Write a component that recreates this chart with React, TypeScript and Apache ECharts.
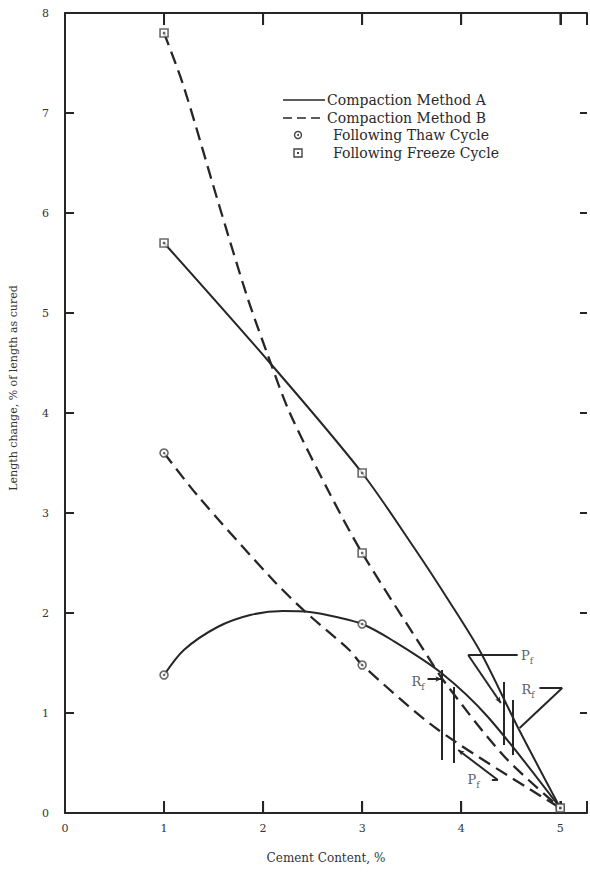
import React, { useEffect, useRef } from "react";
import * as echarts from "echarts";

// ---- data ----
const xTickValues = [0, 1, 2, 3, 4, 5];
const yTickValues = [0, 1, 2, 3, 4, 5, 6, 7, 8];

// curves
const methodAFreezeCurve: number[][] = [
  [1, 5.7], [2.07, 4.5], [3, 3.4], [3.54, 2.63], [3.87, 2.13], [4.2, 1.6], [4.57, 0.86], [5, 0.05],
];
const methodAThawCurve: number[][] = [
  [1, 1.38], [1.2, 1.63], [1.54, 1.86], [1.87, 1.98], [2.2, 2.02], [2.47, 2.01], [2.74, 1.96],
  [3, 1.89], [3.3, 1.73], [3.8, 1.4], [4.27, 0.96], [5, 0.05],
];
const methodBFreezeCurve: number[][] = [
  [1, 7.8], [1.2, 7.26], [1.54, 6.13], [1.84, 5.16], [2.04, 4.6], [2.27, 4.0], [2.67, 3.2],
  [3, 2.6], [3.64, 1.6], [3.84, 1.3], [4.44, 0.56], [5, 0.05],
];
const methodBThawCurve: number[][] = [
  [1, 3.6], [1.35, 3.16], [2.1, 2.33], [2.44, 2.0], [2.87, 1.63], [3, 1.48], [3.77, 0.83], [5, 0.05],
];

// measured points
const thawPoints: number[][] = [[1, 1.38], [3, 1.89], [5, 0.05], [1, 3.6], [3, 1.48]];
const freezePoints: number[][] = [[1, 5.7], [3, 3.4], [1, 7.8], [3, 2.6], [5, 0.05]];

// annotation marks: [x, yTop, yBottom]
const verticalMarks: number[][] = [
  [3.8, 1.43, 0.53], [3.92, 1.26, 0.5], [4.43, 1.31, 0.68], [4.52, 1.13, 0.58],
];
// leader segments: [x1, y1, x2, y2, arrow(1/0)]
const leaderSegments: number[][] = [
  [4.57, 1.58, 4.07, 1.58, 0], [4.07, 1.58, 4.4, 1.1, 1],
  [3.66, 1.34, 3.8, 1.34, 1],
  [4.79, 1.25, 5.02, 1.25, 0], [5.02, 1.25, 4.59, 0.85, 0],
  [4.31, 0.33, 4.37, 0.33, 0], [4.37, 0.33, 3.97, 0.63, 1],
];
const annotationLabels = [
  { main: "P", sub: "f", x: 4.665, y: 1.56 },
  { main: "R", sub: "f", x: 3.565, y: 1.3 },
  { main: "R", sub: "f", x: 4.675, y: 1.22 },
  { main: "P", sub: "f", x: 4.125, y: 0.32 },
];
const legendLabels = ["Compaction Method A", "Compaction Method B", "Following Thaw Cycle", "Following Freeze Cycle"];

const INK = "#262626";
const SERIF = "'DejaVu Serif', 'Liberation Serif', serif";
const X_MAX = 5.27;
const Y_MIN = 0;
const Y_MAX = 8;

export default function App() {
  const ref = useRef<HTMLDivElement>(null);
  useEffect(() => {
    if (!ref.current) return;
    const chart = echarts.init(ref.current, undefined, { renderer: "svg" });

    const curve = (data: number[][], dashed: boolean) => ({
      type: "line",
      data,
      smooth: 0.3,
      showSymbol: false,
      symbol: "none",
      silent: true,
      lineStyle: { color: INK, width: dashed ? 2.3 : 2, type: dashed ? [13, 7] : "solid" },
      z: 2,
    });

    const markLineData: any[] = [];
    verticalMarks.forEach(([x, y1, y2]) => {
      markLineData.push([
        { coord: [x, y1], symbol: "none" },
        { coord: [x, y2], symbol: "none" },
      ]);
    });
    leaderSegments.forEach(([x1, y1, x2, y2, arrow]) => {
      markLineData.push([
        { coord: [x1, y1], symbol: "none" },
        { coord: [x2, y2], symbol: arrow ? "arrow" : "none", symbolSize: [4, 6] },
      ]);
    });

    // inward x ticks on the bottom and top frame lines, as bar-shaped symbols
    const innerXTicks = xTickValues.filter((v) => v > 0);
    const bottomTickPoints = innerXTicks.map((v) => [v, Y_MIN]);
    const topTickPoints = innerXTicks.map((v) => [v, Y_MAX]);

    const tickOnly = (v: number, list: number[]) => list.includes(v);

    const option: any = {
      animation: false,
      backgroundColor: "#ffffff",
      grid: { left: 63, top: 13, right: 0, height: 800 },
      xAxis: [
        {
          type: "value", min: 0, max: X_MAX, interval: 1, position: "bottom",
          axisLine: { show: true, onZero: false, lineStyle: { color: INK, width: 2 } },
          axisTick: { show: true, inside: true, length: 12, lineStyle: { color: INK, width: 2 } },
          axisLabel: {
            margin: 10, color: "#333", fontFamily: SERIF, fontSize: 11,
            formatter: (v: number) => (tickOnly(v, xTickValues) ? String(v) : ""),
          },
          splitLine: { show: false },
          name: "Cement Content, %", nameLocation: "middle", nameGap: 39,
          nameTextStyle: { color: "#333", fontFamily: SERIF, fontSize: 12 },
        },
        {
          type: "value", min: 0, max: X_MAX, interval: 1, position: "top",
          axisLine: { show: true, onZero: false, lineStyle: { color: INK, width: 2 } },
          axisTick: { show: true, inside: true, length: 12, lineStyle: { color: INK, width: 2 } },
          axisLabel: { show: false },
          splitLine: { show: false },
        },
      ],
      yAxis: [
        {
          type: "value", min: Y_MIN, max: Y_MAX, interval: 1, position: "left",
          axisLine: { show: true, onZero: false, lineStyle: { color: INK, width: 2 } },
          axisTick: { show: true, inside: true, length: 9, lineStyle: { color: INK, width: 2 } },
          axisLabel: {
            margin: 16, color: "#333", fontFamily: SERIF, fontSize: 11,
            formatter: (v: number) => (tickOnly(v, yTickValues) ? String(v) : ""),
          },
          splitLine: { show: false },
          name: "Length change, % of length as cured", nameLocation: "middle", nameGap: 46, nameRotate: 90,
          nameTextStyle: { color: "#333", fontFamily: SERIF, fontSize: 11, padding: [0, 0, 0, 50] },
        },
        {
          type: "value", min: Y_MIN, max: Y_MAX, interval: 1, position: "right",
          axisLine: { show: false, onZero: false },
          axisTick: { show: true, inside: true, length: 7, lineStyle: { color: INK, width: 2 } },
          axisLabel: { show: false },
          splitLine: { show: false },
        },
      ],
      series: [
        curve(methodAFreezeCurve, false),
        curve(methodAThawCurve, false),
        curve(methodBFreezeCurve, true),
        curve(methodBThawCurve, true),
        {
          type: "line", data: [], symbol: "none", silent: true,
          markLine: {
            silent: true, symbol: ["none", "none"], label: { show: false },
            lineStyle: { color: INK, width: 2, type: "solid" },
            emphasis: { disabled: true },
            data: markLineData,
          },
        },
        {
          type: "scatter", data: bottomTickPoints, symbol: "rect", symbolSize: [2, 12],
          symbolOffset: [0, -6], silent: true, clip: false, z: 4,
          itemStyle: { color: INK },
        },
        {
          type: "scatter", data: topTickPoints, symbol: "rect", symbolSize: [2, 12],
          symbolOffset: [0, 6], silent: true, clip: false, z: 4,
          itemStyle: { color: INK },
        },
        {
          type: "scatter", data: thawPoints, symbol: "circle", symbolSize: 8, silent: true, z: 5,
          itemStyle: { color: "#ffffff", borderColor: "#444", borderWidth: 1.6 },
        },
        {
          type: "scatter", data: thawPoints, symbol: "circle", symbolSize: 2.5, silent: true, z: 6,
          itemStyle: { color: "#444" },
        },
        {
          type: "scatter", data: freezePoints, symbol: "rect", symbolSize: 8, silent: true, z: 5,
          itemStyle: { color: "#ffffff", borderColor: "#444", borderWidth: 1.6 },
        },
        {
          type: "scatter", data: freezePoints, symbol: "rect", symbolSize: 2.5, silent: true, z: 6,
          itemStyle: { color: "#444" },
        },
        {
          type: "scatter", symbolSize: 0, silent: true, z: 7,
          data: annotationLabels.map((a) => ({ value: [a.x, a.y], name: a.main, sub: a.sub })),
          label: {
            show: true, position: "inside",
            formatter: (p: any) => `{m|${p.name}}{s|${p.data.sub}}`,
            rich: {
              m: { fontFamily: SERIF, fontSize: 13, color: "#333", verticalAlign: "top", lineHeight: 16 },
              s: { fontFamily: SERIF, fontSize: 9, color: "#333", padding: [7, 0, 0, 0], verticalAlign: "top", lineHeight: 16 },
            },
          },
        },
      ],
      graphic: [
        { type: "line", shape: { x1: 283, y1: 100, x2: 325, y2: 100 }, style: { stroke: INK, lineWidth: 1.6 } },
        { type: "line", shape: { x1: 283, y1: 118, x2: 325, y2: 118 }, style: { stroke: INK, lineWidth: 1.6, lineDash: [9, 5] } },
        { type: "circle", shape: { cx: 298, cy: 135, r: 3.5 }, style: { fill: "#fff", stroke: "#444", lineWidth: 1.4 } },
        { type: "circle", shape: { cx: 298, cy: 135, r: 1 }, style: { fill: "#444" } },
        { type: "rect", shape: { x: 294, y: 149, width: 8, height: 8 }, style: { fill: "#fff", stroke: "#444", lineWidth: 1.4 } },
        { type: "rect", shape: { x: 297, y: 152, width: 2, height: 2 }, style: { fill: "#444" } },
        ...legendLabels.map((t, i) => ({
          type: "text",
          x: i < 2 ? 327 : 333,
          y: [100, 118, 135, 153][i],
          style: { text: t, fill: "#2a2a2a", font: `14px ${SERIF}`, textVerticalAlign: "middle", textAlign: "left" },
        })),
      ],
    };
    chart.setOption(option);
    return () => chart.dispose();
  }, []);
  return (
    <div
      ref={ref}
      style={{ position: "fixed", left: 0, top: 0, width: 590, height: 879, background: "#fff" }}
    />
  );
}
